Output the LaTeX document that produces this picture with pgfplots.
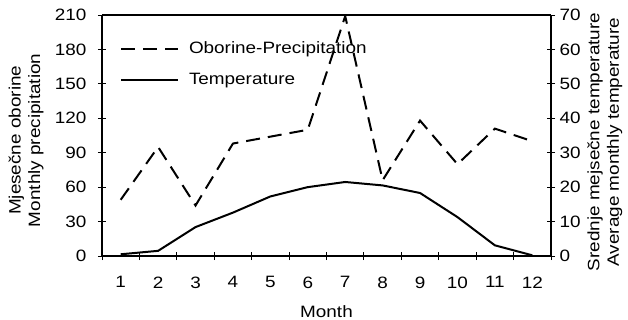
\documentclass[border=0pt]{standalone}
\usepackage{fontspec}
\setmainfont[FakeStretch=1.15]{Liberation Sans}
\usepackage{pgfplots}
\pgfplotsset{compat=1.18}
\begin{document}
\fontsize{16.5}{19.5}\selectfont
\begin{tikzpicture}
\useasboundingbox (-102bp,-64bp) rectangle (526bp,256bp);
\pgfplotsset{
  common/.style={
    scale only axis, width=449bp, height=241bp,
    xmin=0.5, xmax=12.5,
    /pgf/number format/assume math mode=true,
    tick align=center,
    major tick length=8bp, minor tick length=8bp,
    tick style={black, line width=0.9bp},
    ticklabel style={font=\fontsize{16.5}{19.5}\selectfont},
    label style={font=\fontsize{16.5}{19.5}\selectfont},
  }
}
\begin{axis}[common,
  ymin=0, ymax=210, ytick={0,30,...,210},
  axis x line*=bottom, axis y line*=left,
  axis line style={line width=1.1bp},
  x axis line style={line width=2bp, -},
  y axis line style={-},
  xtick={1,...,12},
  major x tick style={draw=none},
  minor xtick={0.5,1.5,...,12.5},
  xticklabel style={yshift=-11bp},
  yticklabel style={xshift=-6bp},
  xlabel={Month},
  xlabel style={at={(axis description cs:0.5,0)}, anchor=center, yshift=-56bp},
  ylabel={Mjesečne oborine\\Monthly precipitation},
  ylabel style={align=center, at={(axis description cs:-0.169,0.48)}, anchor=center},
]
\addplot[black, line width=2bp, dash pattern=on 14bp off 8bp] coordinates {
(1,49) (2,95) (3,44) (4,98) (5,104) (6,110) (7,209) (8,66) (9,118) (10,80) (11,111) (12,100)};
\end{axis}
\begin{axis}[common,
  ymin=0, ymax=70, ytick={0,10,...,70},
  axis x line=none, axis y line*=right,
  axis line style={line width=1.1bp, -},
  yticklabel style={xshift=-1bp},
  ylabel={Srednje mejsečne temperature\\Average monthly temperature},
  ylabel style={align=center, at={(axis description cs:1.12,0.473)}, anchor=center, rotate=0},
  legend style={draw=none, fill=none, at={(axis description cs:0.033,0.905)}, anchor=north west,
    row sep=13bp, font=\fontsize{16.5}{19.5}\selectfont},
  legend cell align=left,
  legend image code/.code={\draw[#1] (0bp,0bp) -- (57bp,0bp); \path (65bp,0bp);},
]
\addlegendimage{black, line width=2bp, dash pattern=on 14bp off 8bp}
\addlegendentry{Oborine-Precipitation}
\addplot[black, line width=2bp] coordinates {
(1,0.5) (2,1.5) (3,8.4) (4,12.6) (5,17.3) (6,20) (7,21.5) (8,20.5) (9,18.3) (10,11.3) (11,3.1) (12,0.2)};
\addlegendentry{Temperature}
\end{axis}
\draw[line width=1.1bp] (0bp,241bp) -- (449bp,241bp);
\end{tikzpicture}
\end{document}
